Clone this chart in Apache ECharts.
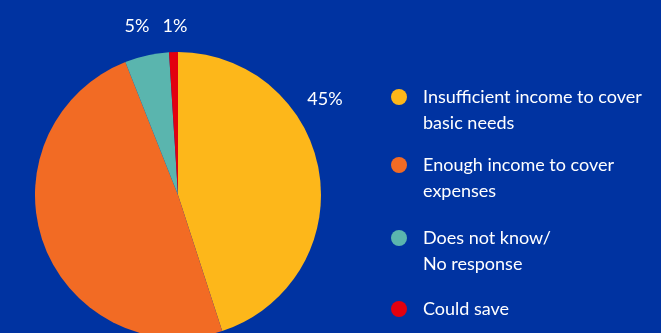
<!DOCTYPE html>
<html>
<head>
<meta charset="utf-8">
<script src="https://cdn.jsdelivr.net/npm/echarts@6/dist/echarts.min.js"></script>
<style>
html,body{margin:0;padding:0;background:#0033a1;}
#c{width:661px;height:333px;}
</style>
</head>
<body>
<div id="c"></div>
<script>
const categories = ["Insufficient income to cover\nbasic needs", "Enough income to cover\nexpenses", "Does not know/\nNo response", "Could save"];
const values = [45, 49, 5, 1];
const labels = ["45%", "49%", "5%", "1%"];
const colors = ["#fdb71a", "#f26b24", "#5ab5ae", "#e3000f"];

const labelPos = [[325, 99], [33, 310], [137, 26], [175, 26]];
const legendIconY = [97, 165, 238, 309];
const FONT = "Lato, 'Open Sans', sans-serif";

const chart = echarts.init(document.getElementById('c'), null, {renderer: 'canvas'});
const legends = categories.map((name, i) => {
  const twoLine = name.indexOf('\n') >= 0;
  return {
    data: [name],
    orient: 'vertical',
    left: 391,
    top: legendIconY[i] - (twoLine ? 39 : 13),
    icon: 'circle',
    itemWidth: 16,
    itemHeight: 16,
    itemGap: 0,
    padding: 0,
    selectedMode: false,
    formatter: n => (n.indexOf('\n') >= 0 ? ' \n' + n : n),
    textStyle: {
      color: '#ffffff',
      fontSize: 18,
      fontFamily: FONT,
      lineHeight: 26,
      padding: [0, 0, 0, 11]
    }
  };
});

chart.setOption({
  backgroundColor: '#0033a1',
  color: colors,
  legend: legends,
  series: [{
    type: 'pie',
    center: [178, 195],
    radius: 143,
    startAngle: 90,
    clockwise: true,
    animation: false,
    data: categories.map((n, i) => ({name: n, value: values[i]})),
    label: {
      show: true,
      position: 'outside',
      color: '#ffffff',
      fontSize: 18,
      fontFamily: FONT,
      formatter: p => labels[p.dataIndex]
    },
    labelLine: {show: false},
    labelLayout: function (params) {
      const p = labelPos[params.dataIndex];
      return {x: p[0], y: p[1], align: 'center', verticalAlign: 'middle'};
    },
    itemStyle: {borderWidth: 0}
  }]
});
</script>
</body>
</html>
